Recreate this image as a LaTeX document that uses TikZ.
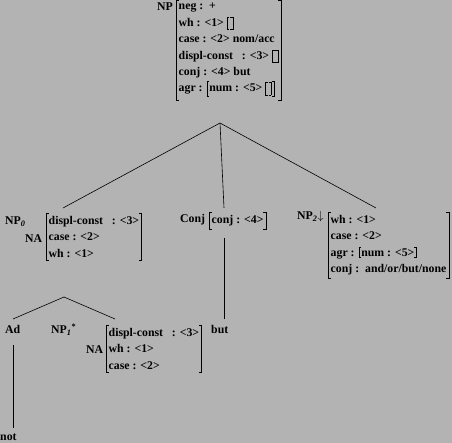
\documentclass[tikz,border=0pt]{standalone}
\usepackage{fontspec}
\setmainfont{Liberation Serif}
\usepackage{amsmath}
\definecolor{bggray}{RGB}{179,179,179}
% square brackets round a feature value
\newcommand\sqb[1]{\leavevmode\setbox0\hbox{\kern2pt#1\kern2pt}%
  \dimen0=\ht0 \advance\dimen0 1.5pt
  \dimen2=\dp0 \advance\dimen2 1.5pt
  \dimen4=-\dimen0 \advance\dimen4 .8pt
  \dimen6=-\dimen2 \advance\dimen6 .8pt
  \rlap{\vrule height\dimen0 depth\dimen4 width2.5pt}%
  \rlap{\vrule height\dimen6 depth\dimen2 width2.5pt}%
  \vrule height\dimen0 depth\dimen2 width.8pt
  \copy0
  \llap{\vrule height\dimen0 depth\dimen4 width2.5pt}%
  \llap{\vrule height\dimen6 depth\dimen2 width2.5pt}%
  \vrule height\dimen0 depth\dimen2 width.8pt}
\newcommand\emp{\sqb{\rule[-2pt]{0pt}{10pt}\kern1pt}}

\begin{document}
\begin{tikzpicture}[x=1pt,y=-1pt,
    every node/.style={font=\bfseries\fontsize{11.8}{16.4}\selectfont},
    lbl/.style={anchor=base west,inner sep=0pt},
    avm/.style={anchor=north west,align=left,inner xsep=2.5pt,inner ysep=3pt,
      append after command={\pgfextra{\draw[line width=.8pt]
        ([xshift=3pt]\tikzlastnode.north west) -| (\tikzlastnode.south west) -- ++(3pt,0)
        ([xshift=-3pt]\tikzlastnode.north east) -| (\tikzlastnode.south east) -- ++(-3pt,0);}}},
    branch/.style={line width=.6pt}]
  \fill[bggray] (0,0) rectangle (452,443);
  \useasboundingbox (0,0) rectangle (452,443);

  % top NP
  \node[avm] (1f) at (176,0) {neg :\ \ +\\ wh : <1> \emp\\ case : <2> nom/acc\\
    displ-const\ \ \ : <3> \emp\\ conj : <4> but\\ agr : \sqb{num : <5> \emp}};
  \node[lbl] (1) at (157,11) {NP};

  % daughters
  \node[avm] (2f) at (46,213) {displ-const\ \ \ : <3>\\ case : <2>\\ wh : <1>};
  \node[lbl] (2) at (5,225) {NP\textsubscript{\itshape 0}};
  \node[lbl] (2n) at (25,243) {NA};

  \node[avm] (3f) at (209,212) {conj : <4>};
  \node[lbl] (3) at (180,223) {Conj};

  \node[avm] (4f) at (328,212) {wh : <1>\\ case : <2>\\ agr : \sqb{num : <5>}\\
    conj :\ \ and/or/but/none};
  \node[lbl] (4) at (297,220) {NP\textsubscript{\itshape 2}$\downarrow$};

  % under NP0
  \node[lbl] (5) at (5,334) {Ad};
  \node[lbl] (6) at (51,334) {NP\textsubscript{\itshape 1}\textsuperscript{*}};
  \node[lbl] (6n) at (86,353) {NA};
  \node[avm] (6f) at (106,325) {displ-const\ \ \ : <3>\\ wh : <1>\\ case : <2>};
  \node[lbl] (7) at (0,440) {not};
  \node[lbl] (8) at (211,333) {but};

  \coordinate (1t) at (220,123);
  \coordinate (2t) at (63,208);
  \coordinate (3t) at (224,208);
  \coordinate (4t) at (376,208);
  \coordinate (3b) at (224,238);
  \coordinate (8t) at (224,319);
  \coordinate (6t) at (64,297);
  \coordinate (5t) at (13,319);
  \coordinate (6e) at (115,319);
  \coordinate (5b) at (13,345);
  \coordinate (7t) at (13,428);

  \draw[branch] (1t) -- (2t);
  \draw[branch] (1t) -- (3t);
  \draw[branch] (1t) -- (4t);
  \draw[branch] (3b) -- (8t);
  \draw[branch] (6t) -- (5t);
  \draw[branch] (6t) -- (6e);
  \draw[branch] (5b) -- (7t);
  %% \draw[branch] (2) -- (6t);
\end{tikzpicture}
\end{document}
